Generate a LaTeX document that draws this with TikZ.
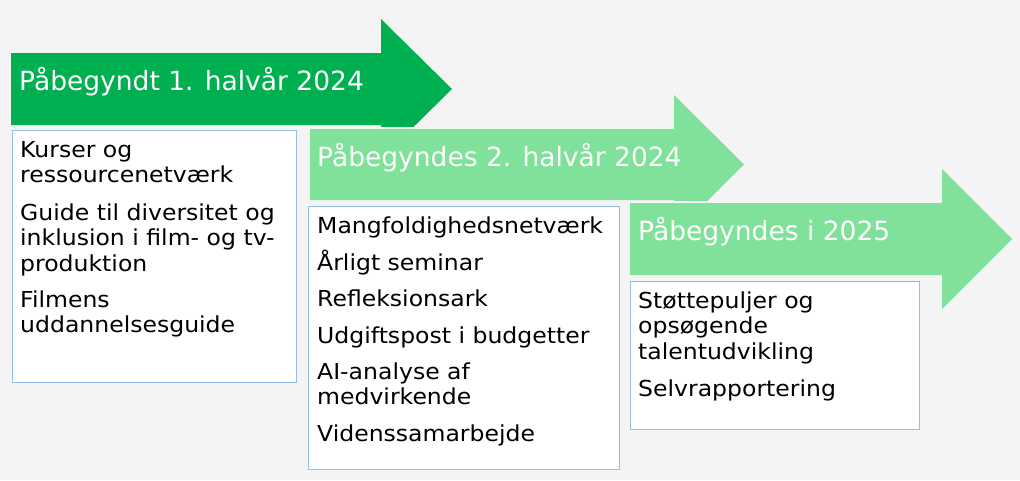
\documentclass[tikz,border=0pt]{standalone}
\usepackage{fontspec}
\setmainfont{DejaVu Sans}
\newfontfamily\boxfont[FakeStretch=1.07]{DejaVu Sans}
\definecolor{bg}{HTML}{F4F4F4}
\definecolor{dg}{HTML}{00B050}
\definecolor{lg}{HTML}{80E29A}
\definecolor{bb}{HTML}{93BDE8}
\begin{document}
\begin{tikzpicture}[x=1pt,y=-1pt,
  arrowlabel/.style={anchor=base west,inner sep=0pt,text=white,font=\fontsize{26.5}{32}\selectfont},
  itemtext/.style={anchor=base west,inner sep=0pt,align=left,font=\boxfont\fontsize{22}{25.5}\selectfont},
  listbox/.style={draw=bb,fill=white,line width=1.5pt}]
\fill[bg] (0,0) rectangle (1020,480);
\useasboundingbox (0,0) rectangle (1020,480);
% arrow 1
\fill[dg] (11,53) -- (381,53) -- (381,19) -- (452,89) -- (381,159) -- (381,125) -- (11,125) -- cycle;
% arrow 2
\path[fill=lg,preaction={draw=bg,line width=4pt}] (310,129) -- (674,129) -- (674,95) -- (744,164.5) -- (674,234) -- (674,200) -- (310,200) -- cycle;
% arrow 3
\path[fill=lg,preaction={draw=bg,line width=4pt}] (630,203) -- (942,203) -- (942,169) -- (1012,239) -- (942,309) -- (942,275) -- (630,275) -- cycle;
% labels
\node[arrowlabel] (l1) at (19,90) {Påbegyndt 1. halvår 2024};
\node[arrowlabel] (l2) at (317,166) {Påbegyndes 2. halvår 2024};
\node[arrowlabel] (l3) at (638,240) {Påbegyndes i 2025};
% boxes
\draw[listbox] (12.5,130.5) rectangle (296.5,382.5);
\draw[listbox] (308.5,206.5) rectangle (619.5,469.5);
\draw[listbox] (630.5,281.5) rectangle (919.5,429.5);
% box 1 items (anchor = baseline of last line)
\node[itemtext] (b1a) at (20,182.5) {Kurser og\\ressourcenetværk};
\node[itemtext] (b1b) at (20,271) {Guide til diversitet og\\inklusion i film- og tv-\\produktion};
\node[itemtext] (b1c) at (20,332.5) {Filmens\\uddannelsesguide};
% box 2 items
\node[itemtext] (b2a) at (317,233) {Mangfoldighedsnetværk};
\node[itemtext] (b2b) at (317,270) {Årligt seminar};
\node[itemtext] (b2c) at (317,306) {Refleksionsark};
\node[itemtext] (b2d) at (317,343) {Udgiftspost i budgetter};
\node[itemtext] (b2e) at (317,404.5) {AI-analyse af\\medvirkende};
\node[itemtext] (b2f) at (317,441) {Videnssamarbejde};
% box 3 items
\node[itemtext] (b3a) at (638,359) {Støttepuljer og\\opsøgende\\talentudvikling};
\node[itemtext] (b3b) at (638,396) {Selvrapportering};
\end{tikzpicture}
\end{document}
